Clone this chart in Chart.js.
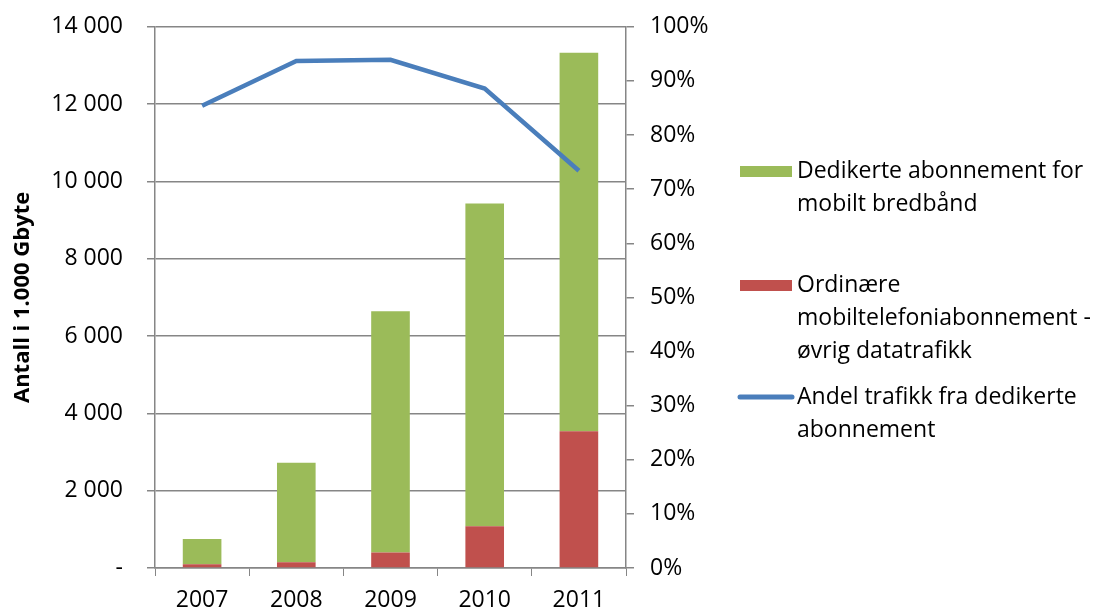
<!DOCTYPE html>
<html>
<head>
<meta charset="utf-8">
<script src="https://cdn.jsdelivr.net/npm/chart.js@4"></script>
<style>
  html, body { margin: 0; padding: 0; background: #fff; overflow: hidden; }
  #wrap { width: 1099px; height: 613px; overflow: hidden; }
  #chart { margin-top: -11px; display: block; }
</style>
</head>
<body>
<div id="wrap"><canvas id="chart" width="1099" height="624"></canvas></div>
<script>
// data
const years = ['2007', '2008', '2009', '2010', '2011'];
const ordinaere = [100, 150, 400, 1080, 3540];        // red, bottom of stack
const dedikerte = [650, 2570, 6240, 8350, 9790];      // green, on top
const andel = [85.4, 93.7, 93.9, 88.6, 73.4];         // blue line, right axis (%)

const labelGreen = ['Dedikerte abonnement for', 'mobilt bredbånd'];
const labelRed = ['Ordinære', 'mobiltelefoniabonnement -', 'øvrig datatrafikk'];
const labelBlue = ['Andel trafikk fra dedikerte', 'abonnement'];

const FONT = '"Open Sans", Lato, sans-serif';
const SIZE = 23;
const axisGrey = '#868686';
const SHIFT = 11; // canvas is pulled up by this much

// legend drawn by hand to the right of the plot
const sideLegend = {
    id: 'sideLegend',
    afterDraw(chart) {
        const ctx = chart.ctx;
        ctx.save();
        ctx.font = SIZE + 'px ' + FONT;
        ctx.fillStyle = '#000';
        ctx.textBaseline = 'middle';
        ctx.textAlign = 'left';
        const tx = 797, lh = 33;
        const items = [
            { lines: labelGreen, y: 171, color: '#9BBB59', box: true },
            { lines: labelRed, y: 285, color: '#C0504D', box: true },
            { lines: labelBlue, y: 397, color: '#4A7EBB', box: false }
        ];
        items.forEach(it => {
            const y = it.y + SHIFT;
            if (it.box) {
                ctx.fillStyle = it.color;
                ctx.fillRect(740, y - 5, 52, 11);
            } else {
                ctx.strokeStyle = it.color;
                ctx.lineWidth = 5;
                ctx.lineCap = 'round';
                ctx.beginPath();
                ctx.moveTo(740, y);
                ctx.lineTo(792, y);
                ctx.stroke();
            }
            ctx.fillStyle = '#000';
            it.lines.forEach((t, i) => ctx.fillText(t, tx, y + i * lh));
        });
        ctx.restore();
    }
};

new Chart(document.getElementById('chart'), {
    data: {
        labels: years,
        datasets: [{
            type: 'line',
            label: labelBlue.join(' '),
            data: andel,
            yAxisID: 'yr',
            borderColor: '#4A7EBB',
            borderWidth: 4.5,
            pointRadius: 0,
            tension: 0,
            order: 0
        }, {
            type: 'bar',
            label: labelRed.join(' '),
            data: ordinaere,
            yAxisID: 'y',
            backgroundColor: '#C0504D',
            categoryPercentage: 1,
            barPercentage: 0.41,
            order: 1
        }, {
            type: 'bar',
            label: labelGreen.join(' '),
            data: dedikerte,
            yAxisID: 'y',
            backgroundColor: '#9BBB59',
            categoryPercentage: 1,
            barPercentage: 0.41,
            order: 2
        }]
    },
    options: {
        responsive: false,
        animation: false,
        layout: { padding: { left: 0, right: 383, top: 0, bottom: 0 } },
        plugins: {
            legend: { display: false },
            tooltip: { enabled: false }
        },
        scales: {
            x: {
                stacked: true,
                offset: true,
                grid: {
                    offset: true,
                    drawOnChartArea: false,
                    tickLength: 8,
                    color: axisGrey
                },
                border: { color: axisGrey, width: 1.5 },
                ticks: { color: '#000', font: { family: FONT, size: SIZE }, padding: 11 },
                afterFit(s) { s.height = 45; }
            },
            y: {
                stacked: true,
                position: 'left',
                min: 0,
                max: 14000,
                ticks: {
                    stepSize: 2000,
                    color: '#000',
                    padding: 24,
                    font: { family: FONT, size: SIZE },
                    callback: v => v === 0 ? '-' : v.toLocaleString('en-US').replace(/,/g, ' ')
                },
                grid: { color: axisGrey, lineWidth: 1.5, tickLength: 8 },
                border: { color: axisGrey, width: 1.5 },
                title: {
                    display: true,
                    text: 'Antall i 1.000 Gbyte',
                    color: '#000',
                    font: { family: FONT, size: 22, weight: 'bold' },
                    padding: { top: 10, bottom: 0 }
                },
                afterFit(s) { s.width = 155; }
            },
            yr: {
                position: 'right',
                min: 0,
                max: 100,
                ticks: {
                    stepSize: 10,
                    color: '#000',
                    padding: 16,
                    font: { family: FONT, size: SIZE },
                    callback: v => v + '%'
                },
                grid: { drawOnChartArea: false, color: axisGrey, lineWidth: 1.5, tickLength: 8 },
                border: { color: axisGrey, width: 1.5 },
                afterFit(s) { s.width = 90; }
            }
        }
    },
    plugins: [sideLegend]
});
</script>
</body>
</html>
